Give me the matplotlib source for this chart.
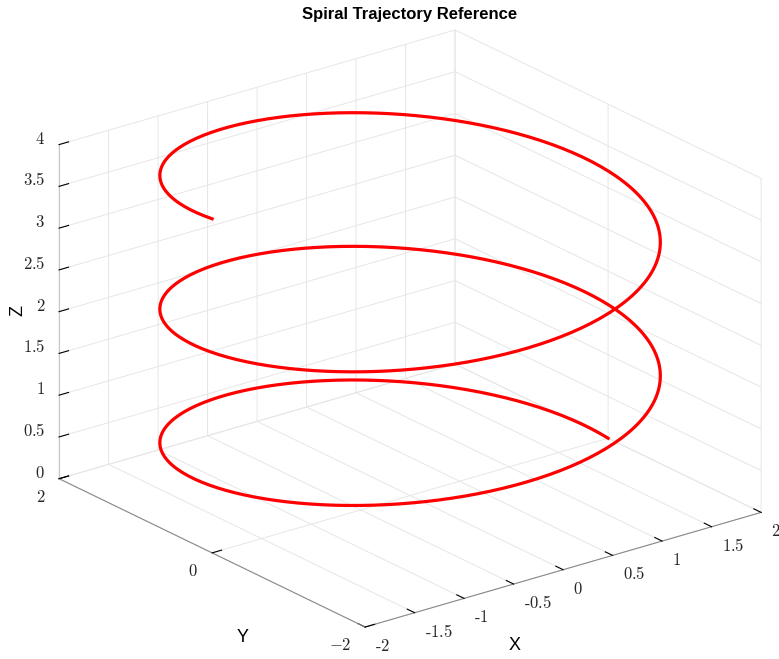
import numpy as np
import matplotlib.pyplot as plt
from matplotlib.transforms import ScaledTranslation

plt.rcParams['mathtext.fontset'] = 'cm'

# helix: radius 2, 2.5 turns, z from 0 to 4
radius = 2.0
turns = 2.5
z_start, z_end = 0.0, 4.0

x_ticks = [-2, -1.5, -1, -0.5, 0, 0.5, 1, 1.5, 2]
y_ticks = [-2, 0, 2]
z_ticks = [0, 0.5, 1, 1.5, 2, 2.5, 3, 3.5, 4]

t = np.linspace(0, 2 * np.pi * turns, 600)
x = radius * np.cos(t)
y = radius * np.sin(t)
z = np.linspace(z_start, z_end, t.size)

fig = plt.figure(figsize=(7.79, 6.59), dpi=100)
ax = fig.add_axes([0.015, -0.012, 1.0, 1.0], projection='3d', proj_type='ortho')
ax.view_init(elev=22, azim=-127.7)
ax.set_box_aspect((1, 1, 0.72), zoom=1.17)

ax.plot(x, y, z, color='#ff0000', linewidth=2.3)

ax.set_xlim(-2, 2)
ax.set_ylim(-2, 2)
ax.set_zlim(0, 4)

# tick marks from the axes; their labels are drawn below in MATLAB-like spots
ax.set_xticks(x_ticks)
ax.set_yticks(y_ticks)
ax.set_zticks(z_ticks)

for axis in (ax.xaxis, ax.yaxis, ax.zaxis):
    axis.set_pane_color((1, 1, 1, 0))
    axis.pane.set_edgecolor('#e0e0e0')
    axis.line.set_color('#8a8a8a')
    axis._axinfo['grid']['color'] = '#e6e6e6'
    axis._axinfo['grid']['linewidth'] = 0.7
    axis._axinfo['tick']['inward_factor'] = 0.0
    axis._axinfo['tick']['outward_factor'] = 0.3
    axis._axinfo['tick']['color'] = '#8a8a8a'
    for tick in axis.get_major_ticks():
        tick.label1.set_visible(False)
        tick.label2.set_visible(False)
ax.zaxis.line.set_color('#c8c8c8')

# draw once so the projection matrix is known
fig.canvas.draw()
M = ax.get_proj()


def proj(px, py, pz):
    v = M @ np.array([px, py, pz, 1.0])
    return v[0] / v[3], v[1] / v[3]


def off(dx_px, dy_px):
    # pixel offset (at 100 dpi) on top of the projected data coordinates
    return ax.transData + ScaledTranslation(dx_px / 100, dy_px / 100, fig.dpi_scale_trans)


tk = dict(fontsize=12, color='#262626')
for v in x_ticks:
    s = f'{v:g}'
    s = r'$\text{-}' + s[1:] + '$' if v < 0 else '$' + s + '$'
    ax.text2D(*proj(v, -2, 0), s, ha='left', va='top', transform=off(10, -10), **tk)
for v in y_ticks:
    ax.text2D(*proj(-2, v, 0), f'${v:g}$', ha='right', va='top', transform=off(-14, -9), **tk)
for v in z_ticks:
    ax.text2D(*proj(-2, 2, v), f'${v:g}$', ha='right', va='center', transform=off(-14, 6), **tk)

# axis names placed where the reference has them
lab = dict(fontsize=13, family='Liberation Sans', ha='center', va='center')
fig.text(515 / 779, 1 - 645 / 659, 'X', **lab)
fig.text(243 / 779, 1 - 637 / 659, 'Y', **lab)
fig.text(18 / 779, 1 - 310 / 659, 'Z', rotation=90, **lab)

fig.text(410 / 779, 1 - 14 / 659, 'Spiral Trajectory Reference', ha='center', va='center',
         fontsize=12, fontweight='bold',
         family=['Liberation Sans Narrow', 'Liberation Sans'])

fig.savefig('out.png', dpi=100)
